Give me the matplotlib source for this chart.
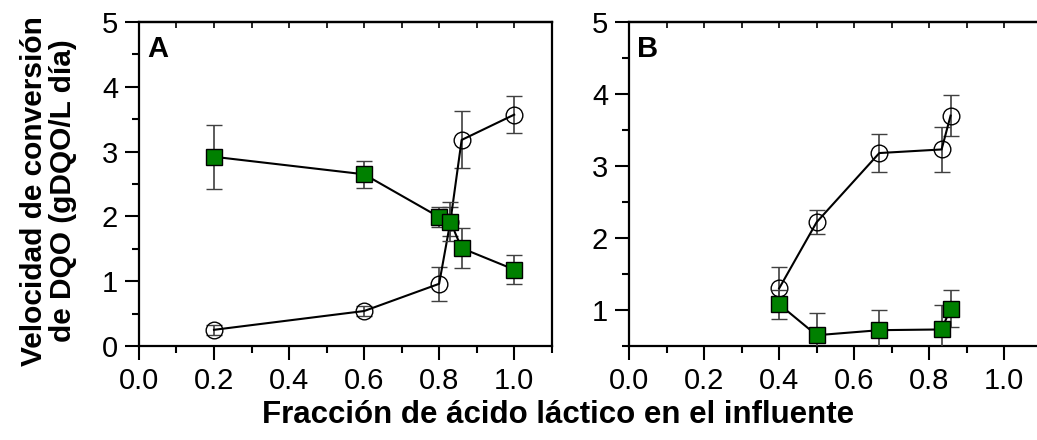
import numpy as np
import matplotlib
matplotlib.use("Agg")
import matplotlib.pyplot as plt
from matplotlib.ticker import MultipleLocator

plt.rcParams['font.family'] = ['Liberation Sans', 'DejaVu Sans']

# Panel A data
xa_circ = [0.2, 0.6, 0.8, 0.83, 0.86, 1.0]
ya_circ = [0.25, 0.54, 0.96, 1.92, 3.18, 3.57]
ea_circ = [0.08, 0.08, 0.26, 0.22, 0.44, 0.29]
xa_sq = [0.2, 0.6, 0.8, 0.83, 0.86, 1.0]
ya_sq = [2.92, 2.65, 1.99, 1.92, 1.51, 1.18]
ea_sq = [0.49, 0.21, 0.15, 0.30, 0.31, 0.23]

# Panel B data
xb_circ = [0.4, 0.5, 0.667, 0.833, 0.857]
yb_circ = [1.30, 2.22, 3.18, 3.23, 3.70]
eb_circ = [0.30, 0.17, 0.27, 0.31, 0.28]
xb_sq = [0.4, 0.5, 0.667, 0.833, 0.857]
yb_sq = [1.08, 0.65, 0.72, 0.73, 1.02]
eb_sq = [0.20, 0.31, 0.28, 0.34, 0.26]

xticks = [0.0, 0.2, 0.4, 0.6, 0.8, 1.0]
xticklabels = ['0.0', '0.2', '0.4', '0.6', '0.8', '1.0']

fig = plt.figure(figsize=(10.37, 4.4), dpi=100)
axA = fig.add_axes([0.134, 0.2136, 0.398, 0.7364])
axB = fig.add_axes([0.6066, 0.2136, 0.398, 0.7364])

green = '#008000'
errc = '#404040'


def draw(ax, xc, yc, ec, xs, ys, es):
    ax.errorbar(xc, yc, yerr=ec, fmt='-o', color='black', lw=1.5, ms=12,
                mfc='none', mec='black', mew=1.0, ecolor=errc, elinewidth=1.2,
                capsize=6, capthick=1.2, zorder=2)
    ax.errorbar(xs, ys, yerr=es, fmt='-s', color='black', lw=1.5, ms=11,
                mfc=green, mec='black', mew=1.0, ecolor=errc, elinewidth=1.2,
                capsize=6, capthick=1.2, zorder=3)


draw(axA, xa_circ, ya_circ, ea_circ, xa_sq, ya_sq, ea_sq)
draw(axB, xb_circ, yb_circ, eb_circ, xb_sq, yb_sq, eb_sq)

axA.set_ylim(0, 5)
axB.set_ylim(0.5, 5)
for ax, letter in [(axA, 'A'), (axB, 'B')]:
    ax.set_xlim(0, 1.1)
    ax.set_xticks(xticks)
    ax.set_xticklabels(xticklabels)
    ax.xaxis.set_minor_locator(MultipleLocator(0.1))
    ax.yaxis.set_major_locator(MultipleLocator(1))
    ax.yaxis.set_minor_locator(MultipleLocator(0.5))
    for s in ax.spines.values():
        s.set_linewidth(1.6)
    ax.tick_params(axis='both', which='major', direction='out', length=10,
                   width=1.5, labelsize=21, pad=5)
    ax.tick_params(axis='both', which='minor', direction='out', length=5,
                   width=1.5)
    # short inward ticks along the top edge
    top = ax.secondary_xaxis('top')
    top.set_xticks(np.arange(0, 1.11, 0.1))
    top.tick_params(direction='in', length=4, width=1.2, labeltop=False)
    top.spines['top'].set_linewidth(1.6)
    ax.text(0.02, 0.96, letter, transform=ax.transAxes, fontsize=21,
            fontweight='bold', va='top', ha='left')

fig.text(0.047, 0.566, 'Velocidad de conversión\nde DQO (gDQO/L día)',
         rotation=90, ha='center', va='center', fontsize=21.5,
         fontweight='bold', linespacing=1.05)
fig.text(0.538, 0.057, 'Fracción de ácido láctico en el influente',
         ha='center', va='center', fontsize=22.5, fontweight='bold')

fig.savefig('out.png', dpi=100)
